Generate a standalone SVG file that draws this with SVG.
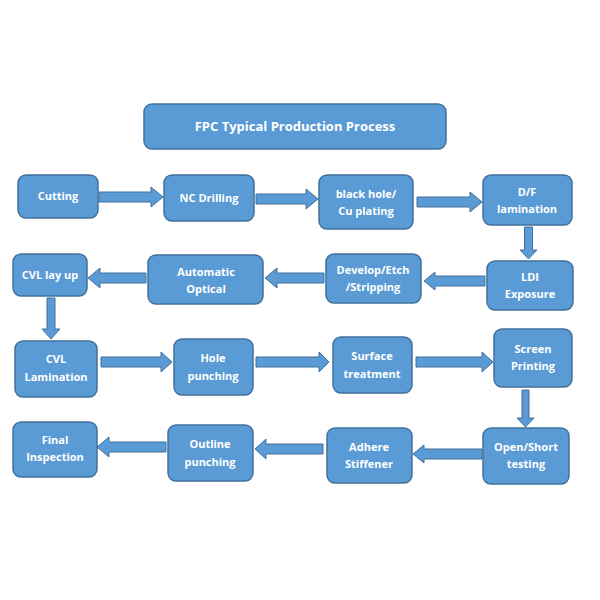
<svg xmlns="http://www.w3.org/2000/svg" width="600" height="600" viewBox="0 0 600 600">
<style>
.box{fill:#5B9BD5;stroke:#41719C;stroke-width:1.5}
.arr{fill:#5B9BD5;stroke:#41719C;stroke-width:1}
text{font-family:"Open Sans","Liberation Sans",sans-serif;font-weight:bold;fill:#fff;font-size:11px;text-anchor:middle}
.title{font-size:13px}
</style>
<rect width="600" height="600" fill="#fff"/>
<g id="title"><rect class="box" x="144" y="104" width="302" height="45" rx="8"/><text class="title" x="295" y="131">FPC Typical Production Process</text></g>
<g id="cutting"><rect class="box" x="18" y="175" width="80" height="43" rx="8"/><text x="58" y="200">Cutting</text></g>
<g id="nc-drilling"><rect class="box" x="164" y="175" width="90" height="46" rx="8"/><text x="209" y="202">NC Drilling</text></g>
<g id="black-hole"><rect class="box" x="319" y="175" width="94" height="54" rx="8"/><text x="366" y="198">black hole/</text><text x="366" y="215">Cu plating</text></g>
<g id="df-lamination"><rect class="box" x="483" y="175" width="89" height="50" rx="8"/><text x="527" y="196">D/F</text><text x="527" y="213">lamination</text></g>
<g id="ldi-exposure"><rect class="box" x="487" y="261" width="86" height="49" rx="8"/><text x="530" y="281">LDI</text><text x="530" y="298">Exposure</text></g>
<g id="develop"><rect class="box" x="326" y="254" width="95" height="49" rx="8"/><text x="373" y="274">Develop/Etch</text><text x="373" y="291">/Stripping</text></g>
<g id="aoi"><rect class="box" x="148" y="255" width="115" height="49" rx="8"/><text x="206" y="276">Automatic</text><text x="206" y="293">Optical</text></g>
<g id="cvl-layup"><rect class="box" x="13" y="254" width="74" height="42" rx="8"/><text x="50" y="279">CVL lay up</text></g>
<g id="cvl-lamination"><rect class="box" x="15" y="341" width="82" height="56" rx="8"/><text x="56" y="363">CVL</text><text x="56" y="381">Lamination</text></g>
<g id="hole-punching"><rect class="box" x="174" y="339" width="79" height="56" rx="8"/><text x="213" y="362">Hole</text><text x="213" y="380">punching</text></g>
<g id="surface"><rect class="box" x="333" y="337" width="79" height="56" rx="8"/><text x="372" y="360">Surface</text><text x="372" y="378">treatment</text></g>
<g id="screen"><rect class="box" x="494" y="329" width="78" height="58" rx="8"/><text x="533" y="353">Screen</text><text x="533" y="370">Printing</text></g>
<g id="open-short"><rect class="box" x="483" y="428" width="86" height="56" rx="8"/><text x="526" y="451">Open/Short</text><text x="526" y="468">testing</text></g>
<g id="adhere"><rect class="box" x="327" y="428" width="85" height="55" rx="8"/><text x="369" y="451">Adhere</text><text x="369" y="468">Stiffener</text></g>
<g id="outline"><rect class="box" x="168" y="425" width="85" height="56" rx="8"/><text x="210" y="448">Outline</text><text x="210" y="466">punching</text></g>
<g id="final"><rect class="box" x="13" y="422" width="84" height="55" rx="8"/><text x="55" y="444">Final</text><text x="55" y="461">Inspection</text></g>
<g id="connectors">
<polygon class="arr" points="99,192 151,192 151,187 163,197 151,207 151,202 99,202"/>
<polygon class="arr" points="256,194 306,194 306,189 318,199 306,209 306,204 256,204"/>
<polygon class="arr" points="417,197 470,197 470,192 482,202 470,212 470,207 417,207"/>
<polygon class="arr" points="524.5,227 532.5,227 532.5,250 537,250 528.5,259 520,250 524.5,250"/>
<polygon class="arr" points="485,276 435,276 435,272 424,281 435,290 435,286 485,286"/>
<polygon class="arr" points="324,273 277,273 277,268 265,278 277,288 277,283 324,283"/>
<polygon class="arr" points="146,273 100,273 100,268 88,278 100,288 100,283 146,283"/>
<polygon class="arr" points="47,298 55,298 55,329 60,329 51,339 42,329 47,329"/>
<polygon class="arr" points="101,357 161,357 161,352 172,362 161,372 161,367 101,367"/>
<polygon class="arr" points="256,357 319,357 319,352 329,362 319,372 319,367 256,367"/>
<polygon class="arr" points="416,357 482,357 482,352 493,362 482,372 482,367 416,367"/>
<polygon class="arr" points="522,390 529,390 529,418 534,418 525.5,427 517,418 522,418"/>
<polygon class="arr" points="482,449 424,449 424,445 413,454 424,463 424,459 482,459"/>
<polygon class="arr" points="323,444 266,444 266,439 255,449 266,459 266,454 323,454"/>
<polygon class="arr" points="166,442 109,442 109,437 97,447 109,457 109,452 166,452"/>
</g>
</svg>
